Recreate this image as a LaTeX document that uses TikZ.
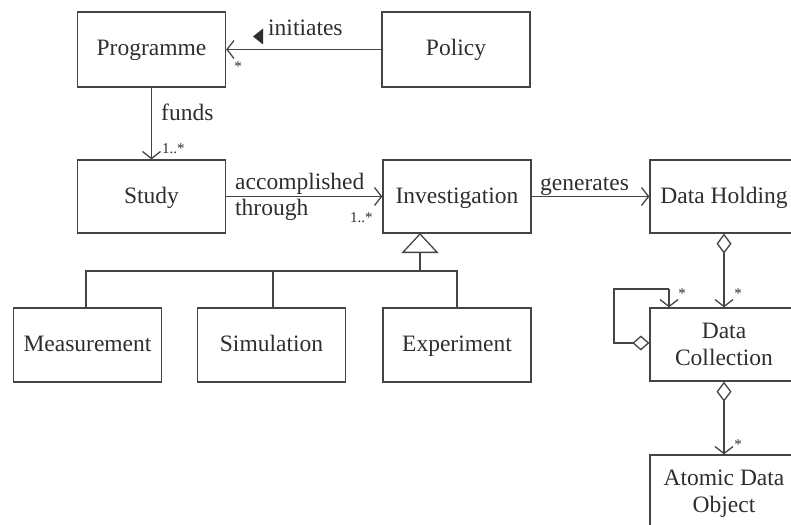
\documentclass[tikz,border=0pt]{standalone}
\usepackage{fontspec}
\setmainfont{Liberation Serif}
\usetikzlibrary{arrows.meta}
\definecolor{ink}{HTML}{2E2E2E}
\definecolor{lin}{HTML}{444444}
\tikzset{
  cls/.style={draw=lin, line width=1.3pt, minimum width=148pt, minimum height=75pt, inner sep=0pt, align=center, text=ink, text height=17pt, text depth=4pt, font=\fontsize{23.5}{27}\selectfont},
  cls2/.style={cls, text height=, text depth=},
  lab/.style={text=ink, inner sep=0pt, font=\fontsize{23.5}{27}\selectfont},
  mult/.style={text=ink, inner sep=0pt, font=\fontsize{15}{17}\selectfont},
  conn/.style={draw=lin, line width=1.3pt},
  assoc/.style={conn, -{Straight Barb[length=7pt,width=18pt,line width=1.3pt]}},
  aggr/.style={conn, {Diamond[open,length=20pt,width=15pt,line width=1.3pt]}-{Straight Barb[length=7pt,width=18pt,line width=1.3pt]}},
  gen/.style={conn, -{Triangle[open,length=20pt,width=37pt,line width=1.3pt]}},
}
\begin{document}
\begin{tikzpicture}[x=1pt,y=-1pt]
\useasboundingbox (0,0) rectangle (791,524);
\node[cls] (prog) at (151.5,49.5) {Programme};
\node[cls] (pol) at (456,49.5) {Policy};
\node[cls, minimum height=73pt] (study) at (151.5,196.5) {Study};
\node[cls, minimum height=73pt] (inv) at (457,196.5) {Investigation};
\node[cls, minimum height=73pt] (dh) at (724,196.5) {Data Holding};
\node[cls, minimum height=74pt] (meas) at (87.5,345) {Measurement};
\node[cls, minimum height=74pt] (sim) at (271.5,345) {Simulation};
\node[cls, minimum height=74pt] (exp) at (457,345) {Experiment};
\node[cls2, minimum height=73pt] (dc) at (724,344.5) {Data\\Collection};
\node[cls2, minimum height=77pt] (ado) at (724,493.5) {Atomic Data\\Object};

% associations
\draw[assoc] (pol) -- (prog);
\node[lab, anchor=base west] (initl) at (268,36) {initiates};
\fill[ink] ([xshift=-5pt,yshift=-8.5pt]initl.base west) -- ++(-10pt,8pt) -- ++(10pt,8pt) -- cycle;
\node[mult] (m1) at (238,67) {*};
\draw[assoc] (prog) -- (study);
\node[lab, anchor=base west] (fundsl) at (161,121) {funds};
\node[mult, anchor=base west] (m2) at (162,153) {1..*};
\draw[assoc] (study) -- (inv);
\node[lab, anchor=base west] (accl) at (235,189) {accomplished};
\node[lab, anchor=base west] (thrl) at (235,215) {through};
\node[mult, anchor=base west] (m3) at (350,222) {1..*};
\draw[assoc] (inv) -- (dh);
\node[lab, anchor=base west] (genl) at (540,190) {generates};

% generalization
\coordinate (gj) at (420,271);
\coordinate (gt) at (420,233);
\draw[gen] (gj) -- (gt);
\draw[conn] (meas.north -| 86,0) |- (gj) -| (exp.north);
\draw[conn] (sim.north -| 273,0) -- (273,271);

% aggregations
\draw[aggr] (dh.south) -- (dc.north);
\node[mult] (m4) at (738,294) {*};
\coordinate (l1) at (614,343);
\coordinate (l2) at (614,289);
\coordinate (l3) at (669,289);
\draw[conn, {Diamond[open,length=17pt,width=15pt,line width=1.3pt]}-] (dc.west |- 0,343) -- (l1) -- (l2) -- (l3);
\draw[assoc] (l3) -- (dc.north -| l3);
\node[mult] (m5) at (682,294) {*};
\draw[aggr] (dc.south) -- (ado.north);
\node[mult] (m6) at (738,445) {*};
\end{tikzpicture}
\end{document}
